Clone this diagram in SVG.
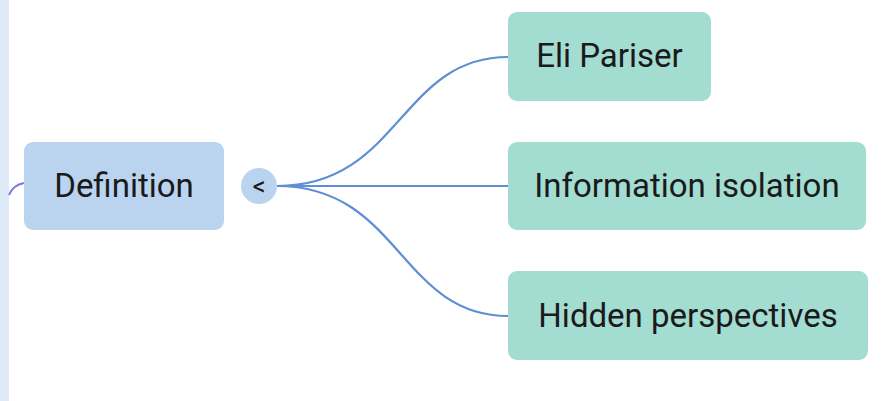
<svg xmlns="http://www.w3.org/2000/svg" width="892" height="401" viewBox="0 0 892 401">
<style>
.t{font-family:Roboto,"Liberation Sans",sans-serif;font-size:33px;fill:#1a1a1a;text-anchor:middle}
.c{fill:none;stroke:#5f8fd3;stroke-width:2.2}
.g{fill:#a3dcd1}
</style>
<rect x="0" y="0" width="892" height="401" fill="#ffffff"/>
<rect x="0" y="0" width="9" height="401" fill="#dde9f6"/>
<g id="connectors">
<path d="M9,195 Q13,185 24,183" fill="none" stroke="#7878f0" stroke-width="2"/>
<path class="c" d="M277,186 C400,186 400,57 508,57"/>
<path class="c" d="M277,186 L508,186"/>
<path class="c" d="M277,186 C400,186 400,316 508,316"/>
</g>
<g id="definition">
<rect x="24" y="142" width="200" height="88" rx="9" fill="#bad4ef"/>
<text class="t" x="124" y="197">Definition</text>
</g>
<g id="collapse">
<circle cx="259" cy="186" r="18" fill="#bad4ef"/>
<text x="259" y="195" font-family="Roboto,'Liberation Sans',sans-serif" font-size="26" fill="#1a1a1a" text-anchor="middle">&lt;</text>
</g>
<g id="eli">
<rect class="g" x="508" y="12" width="203" height="89" rx="9"/>
<text class="t" x="609.5" y="67">Eli Pariser</text>
</g>
<g id="info">
<rect class="g" x="508" y="142" width="358" height="88" rx="9"/>
<text class="t" x="687" y="197">Information isolation</text>
</g>
<g id="hidden">
<rect class="g" x="508" y="271" width="360" height="89" rx="9"/>
<text class="t" x="688" y="327">Hidden perspectives</text>
</g>
</svg>
